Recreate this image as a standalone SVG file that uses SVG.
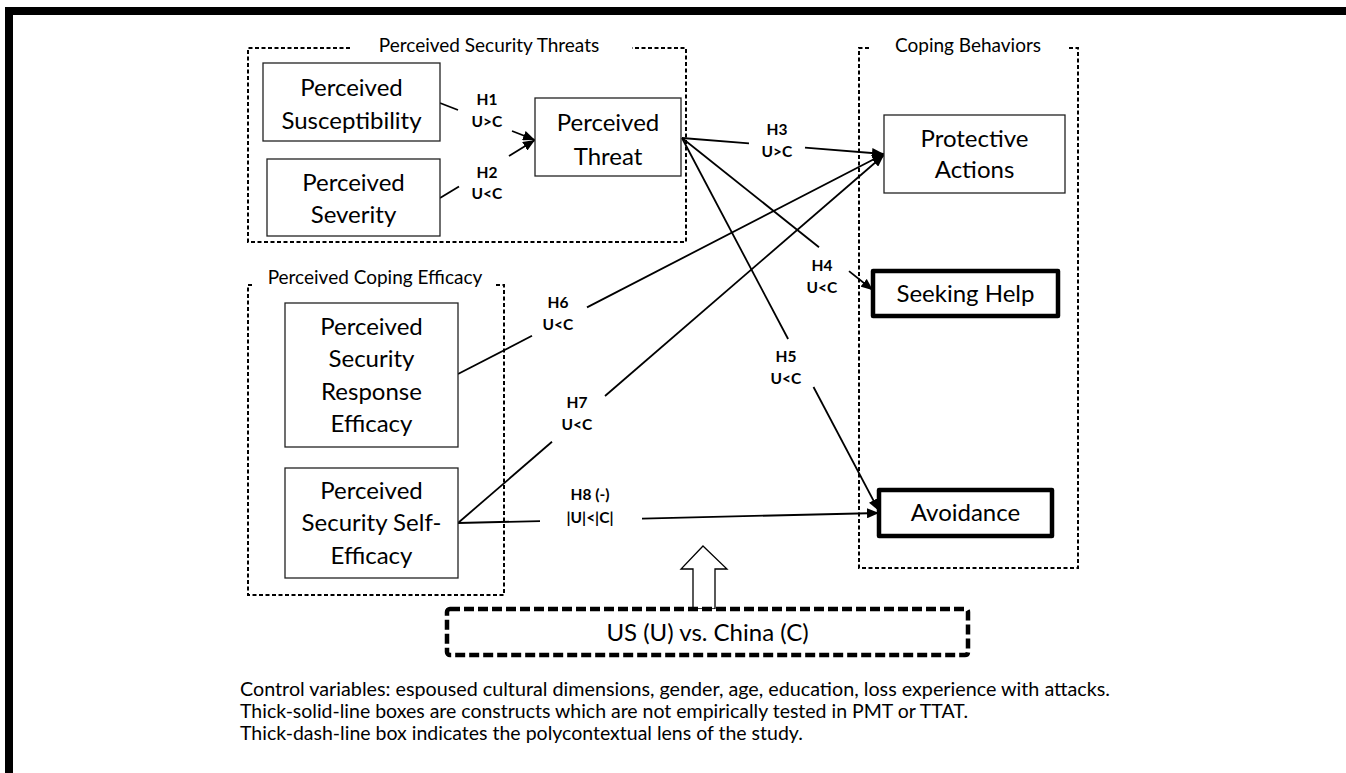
<svg xmlns="http://www.w3.org/2000/svg" width="1346" height="773" viewBox="0 0 1346 773">
<style>
.dash{fill:none;stroke:#000;stroke-width:2;stroke-dasharray:4 2.5}
.node{fill:#fff;stroke:#222;stroke-width:1.3}
.thick{fill:#fff;stroke:#000;stroke-width:4.5;stroke-linejoin:round}
.usbox{fill:#fff;stroke:#000;stroke-width:4.5;stroke-dasharray:10 4}
text{font-family:Lato,"Open Sans","Liberation Sans",sans-serif;fill:#000}
.nt{font-size:24px;text-anchor:middle}
.title{font-size:19px;text-anchor:middle}
.lbl{font-size:15.5px;font-weight:bold;text-anchor:middle}
.note{font-size:19.5px}
.conn{fill:none;stroke:#000;stroke-width:1.8}
.end{marker-end:url(#ah)}
</style>
<defs>
<marker id="ah" markerUnits="userSpaceOnUse" markerWidth="12" markerHeight="10" refX="12" refY="5" orient="auto"><path d="M0,0 L12,5 L0,10 z" fill="#000"/></marker>
</defs>
<rect x="0" y="0" width="1346" height="773" fill="#fff"/>
<rect x="5" y="7" width="1341" height="8" fill="#000"/>
<rect x="5" y="7" width="8" height="766" fill="#000"/>

<g id="group-threats">
<path class="dash" d="M350,48 H248 V242 H686 V48 H632"/>
<text class="title" x="489" y="52">Perceived Security Threats</text>
</g>
<g id="group-coping-behaviors">
<path class="dash" d="M869,48 H859 V568 H1078 V48 H1068"/>
<text class="title" x="968" y="52">Coping Behaviors</text>
</g>
<g id="group-coping-efficacy">
<path class="dash" d="M252,285 H248 V595 H504 V285 H495"/>
<text class="title" x="375" y="284">Perceived Coping Efficacy</text>
</g>

<g id="connectors">
<line class="conn" x1="440" y1="103" x2="458" y2="110"/>
<line class="conn end" x1="512" y1="131" x2="535" y2="140"/>
<line class="conn" x1="440" y1="198" x2="459" y2="186.4"/>
<line class="conn end" x1="509" y1="155.9" x2="535" y2="140"/>
<line class="conn" x1="682" y1="138" x2="749" y2="143.3"/>
<line class="conn end" x1="805" y1="147.7" x2="884" y2="154"/>
<line class="conn" x1="682" y1="138" x2="819" y2="247.2"/>
<line class="conn end" x1="849" y1="271.1" x2="873" y2="290.3"/>
<line class="conn" x1="682" y1="138" x2="788.1" y2="339"/>
<line class="conn end" x1="813.5" y1="387" x2="879" y2="511"/>
<line class="conn" x1="458" y1="374" x2="532" y2="335.8"/>
<line class="conn end" x1="587" y1="307.4" x2="884" y2="154"/>
<line class="conn" x1="458" y1="523" x2="552" y2="441.8"/>
<line class="conn end" x1="605" y1="396" x2="884" y2="155"/>
<line class="conn" x1="458" y1="523" x2="540" y2="521.05"/>
<line class="conn end" x1="642" y1="518.6" x2="879" y2="513"/>
<polygon points="703,546 727,569 715,569 715,609 693,609 693,569 681,569" fill="#fff" stroke="#000" stroke-width="1.3"/>
</g>

<g id="labels">
<text class="lbl" x="487" y="105">H1</text><text class="lbl" x="487" y="127">U&gt;C</text>
<text class="lbl" x="487" y="178">H2</text><text class="lbl" x="487" y="199">U&lt;C</text>
<text class="lbl" x="777" y="135">H3</text><text class="lbl" x="777" y="157">U&gt;C</text>
<text class="lbl" x="822" y="271">H4</text><text class="lbl" x="822" y="293">U&lt;C</text>
<text class="lbl" x="786" y="362">H5</text><text class="lbl" x="786" y="384">U&lt;C</text>
<text class="lbl" x="558" y="308">H6</text><text class="lbl" x="558" y="330">U&lt;C</text>
<text class="lbl" x="577" y="408">H7</text><text class="lbl" x="577" y="430">U&lt;C</text>
<text class="lbl" x="590" y="500">H8 (-)</text><text class="lbl" x="590" y="523">|U|&lt;|C|</text>
</g>

<g id="node-susceptibility">
<rect class="node" x="263" y="63" width="177" height="78"/>
<text class="nt" x="351.5" y="96">Perceived</text><text class="nt" x="351.5" y="129">Susceptibility</text>
</g>
<g id="node-severity">
<rect class="node" x="267" y="159" width="173" height="77"/>
<text class="nt" x="353.5" y="191">Perceived</text><text class="nt" x="353.5" y="223">Severity</text>
</g>
<g id="node-threat">
<rect class="node" x="535" y="98" width="146" height="78"/>
<text class="nt" x="608" y="131">Perceived</text><text class="nt" x="608" y="165">Threat</text>
</g>
<g id="node-protective">
<rect class="node" x="884" y="115" width="181" height="78"/>
<text class="nt" x="974.5" y="147">Protective</text><text class="nt" x="974.5" y="178">Actions</text>
</g>
<g id="node-seeking-help">
<rect class="thick" x="873" y="271" width="185" height="45"/>
<text class="nt" x="965.5" y="302">Seeking Help</text>
</g>
<g id="node-avoidance">
<rect class="thick" x="879" y="490" width="173" height="46"/>
<text class="nt" x="965.5" y="521">Avoidance</text>
</g>
<g id="node-response-efficacy">
<rect class="node" x="285" y="303" width="173" height="144"/>
<text class="nt" x="371.5" y="334.5">Perceived</text><text class="nt" x="371.5" y="367">Security</text><text class="nt" x="371.5" y="399.5">Response</text><text class="nt" x="371.5" y="432">Efficacy</text>
</g>
<g id="node-self-efficacy">
<rect class="node" x="285" y="468" width="173" height="110"/>
<text class="nt" x="371.5" y="499">Perceived</text><text class="nt" x="371.5" y="531">Security Self-</text><text class="nt" x="371.5" y="564">Efficacy</text>
</g>
<g id="node-us-china">
<rect class="usbox" x="447" y="609" width="521" height="46" rx="3"/>
<text class="nt" x="707.5" y="641">US (U) vs. China (C)</text>
</g>

<g id="notes">
<text class="note" x="240" y="696" textLength="870" lengthAdjust="spacingAndGlyphs">Control variables: espoused cultural dimensions, gender, age, education, loss experience with attacks.</text>
<text class="note" x="240" y="718" textLength="728" lengthAdjust="spacingAndGlyphs">Thick-solid-line boxes are constructs which are not empirically tested in PMT or TTAT.</text>
<text class="note" x="240" y="740">Thick-dash-line box indicates the polycontextual lens of the study.</text>
</g>
</svg>
